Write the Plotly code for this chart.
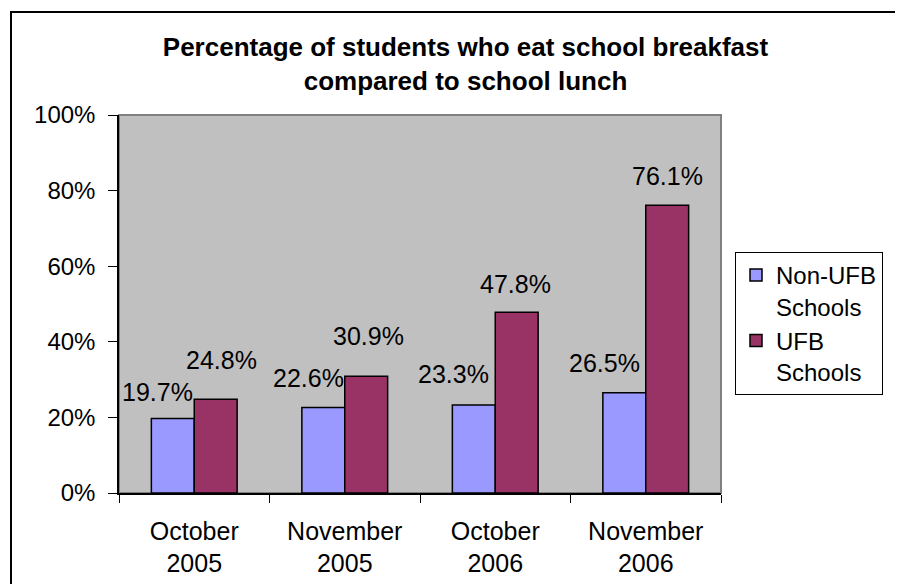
import plotly.graph_objects as go

# ---- data ----
categories = ["October<br>2005", "November<br>2005", "October<br>2006", "November<br>2006"]
series_names = ["Non-UFB<br>Schools", "UFB<br>Schools"]
non_ufb = [19.7, 22.6, 23.3, 26.5]
ufb = [24.8, 30.9, 47.8, 76.1]
y_tick_vals = [0, 20, 40, 60, 80, 100]
y_tick_labels = ["0%", "20%", "40%", "60%", "80%", "100%"]
title_text = "Percentage of students who eat school breakfast<br>compared to school lunch"

# ---- style / layout ----
# the page body has an 8px margin, so the figure is drawn 8px smaller
OFF = 8
W, H = 903 - OFF, 584 - OFF
ML, MR, MT, MB = 111, 182, 107, 91
PW, PH = W - ML - MR, H - MT - MB
BARGAP = 0.43
FONT = "Liberation Sans, Arial, sans-serif"
BLUE = "#9999FF"
PLUM = "#993366"
# per-label pixel nudges (xshift, yshift), as placed in the original
non_ufb_label_shift = [(-15, 11), (-15, 14), (-20, 15), (-20, 14)]
ufb_label_shift = [(6, 23), (2, 24), (-1, 12), (0, 13)]


def px_to_paper_x(px):
    return (px - ML) / PW


def px_to_paper_y(py):
    return (H - MB - py) / PH


fig = go.Figure()
fig.add_trace(go.Bar(
    x=categories, y=non_ufb, name=series_names[0],
    marker=dict(color=BLUE, line=dict(color="black", width=1.5)),
))
fig.add_trace(go.Bar(
    x=categories, y=ufb, name=series_names[1],
    marker=dict(color=PLUM, line=dict(color="black", width=1.5)),
))

half = (1 - BARGAP) / 4
annotations = []
for vals, shifts, sign in ((non_ufb, non_ufb_label_shift, -1), (ufb, ufb_label_shift, 1)):
    for i, v in enumerate(vals):
        annotations.append(dict(
            x=i + sign * half, y=v, xref="x", yref="y",
            text=f"{v:.1f}%", showarrow=False,
            xanchor="center", yanchor="bottom",
            xshift=shifts[i][0], yshift=shifts[i][1],
            font=dict(family=FONT, size=25, color="black"),
        ))

shapes = [
    # plot-area border (grey)
    dict(type="rect", xref="paper", yref="paper", x0=0, x1=1, y0=0, y1=1,
         line=dict(color="#808080", width=2), layer="below"),
    # outer chart frame (runs off the right and bottom of the picture)
    dict(type="rect", xref="paper", yref="paper",
         x0=px_to_paper_x(3), x1=px_to_paper_x(W + 50),
         y0=px_to_paper_y(H + 50), y1=px_to_paper_y(4),
         line=dict(color="black", width=2), layer="above"),
]

fig.update_layout(
    width=W, height=H,
    margin=dict(l=ML, r=MR, t=MT, b=MB, pad=0, autoexpand=False),
    paper_bgcolor="white", plot_bgcolor="#C0C0C0",
    barmode="group", bargap=BARGAP, bargroupgap=0,
    font=dict(family=FONT, size=24, color="black"),
    title=dict(text=title_text, x=457.5 / W, xanchor="center",
               y=1 - 48 / H, yanchor="top", yref="container",
               font=dict(family=FONT, size=26, color="black", weight="bold")),
    xaxis=dict(type="category", range=[-0.5, 3.5], showline=True, linecolor="black",
               linewidth=1.5, ticks="outside", tickson="boundaries", ticklen=8,
               tickcolor="black", showgrid=False, zeroline=False, automargin=False,
               tickfont=dict(family=FONT, size=25, color="black"),
               ticklabelstandoff=15),
    yaxis=dict(range=[0, 100], tickvals=y_tick_vals, ticktext=y_tick_labels,
               showline=True, linecolor="black", linewidth=1.5, ticks="outside",
               ticklen=9, tickcolor="black", showgrid=False, zeroline=False,
               automargin=False,
               tickfont=dict(family=FONT, size=24, color="black"),
               ticklabelstandoff=8),
    legend=dict(x=px_to_paper_x(727), y=px_to_paper_y(244), xanchor="left", yanchor="top",
                bgcolor="white", bordercolor="black", borderwidth=1,
                font=dict(family=FONT, size=24, color="black"),
                valign="top", tracegroupgap=0),
    annotations=annotations,
    shapes=shapes,
    showlegend=True,
)

fig.write_html("out.html")
